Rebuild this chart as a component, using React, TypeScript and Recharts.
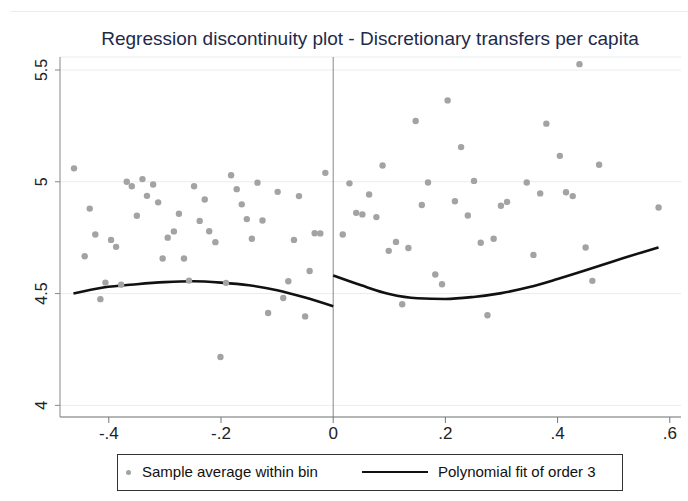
import React from "react";
import {
  ComposedChart,
  Scatter,
  Line,
  XAxis,
  YAxis,
  CartesianGrid,
  ReferenceLine,
} from "recharts";

// bin averages, left of cutoff
const leftBinX = [
  -0.462, -0.443, -0.434, -0.424, -0.415, -0.406, -0.396, -0.387, -0.378, -0.368,
  -0.359, -0.35, -0.34, -0.332, -0.321, -0.312, -0.304, -0.295, -0.284, -0.275,
  -0.266, -0.257, -0.248, -0.238, -0.229, -0.221, -0.21, -0.201, -0.191, -0.182,
  -0.172, -0.163, -0.154, -0.145, -0.135, -0.126, -0.116, -0.099, -0.089, -0.08,
  -0.07, -0.061, -0.05, -0.042, -0.033, -0.023, -0.014,
];
const leftBinY = [
  5.06, 4.667, 4.88, 4.764, 4.475, 4.549, 4.74, 4.709, 4.54, 5.0,
  4.98, 4.848, 5.012, 4.937, 4.988, 4.908, 4.657, 4.75, 4.778, 4.857,
  4.657, 4.558, 4.98, 4.825, 4.921, 4.779, 4.73, 4.216, 4.548, 5.029,
  4.967, 4.899, 4.833, 4.745, 4.996, 4.827, 4.413, 4.955, 4.48, 4.555,
  4.74, 4.936, 4.398, 4.601, 4.77, 4.769, 5.04,
];

// bin averages, right of cutoff
const rightBinX = [
  0.017, 0.029, 0.041, 0.052, 0.064, 0.077, 0.088, 0.099, 0.112, 0.123,
  0.134, 0.147, 0.158, 0.169, 0.182, 0.194, 0.204, 0.217, 0.228, 0.24,
  0.251, 0.263, 0.275, 0.286, 0.299, 0.31, 0.345, 0.357, 0.369, 0.38,
  0.404, 0.415, 0.427, 0.439, 0.45, 0.462, 0.474, 0.58,
];
const rightBinY = [
  4.764, 4.993, 4.861, 4.854, 4.943, 4.842, 5.073, 4.691, 4.731, 4.452,
  4.704, 5.272, 4.896, 4.997, 4.585, 4.542, 5.364, 4.913, 5.155, 4.849,
  5.004, 4.727, 4.403, 4.745, 4.893, 4.91, 4.997, 4.673, 4.948, 5.26,
  5.116, 4.953, 4.936, 5.526, 4.706, 4.557, 5.076, 4.885,
];

// cubic fit
const fitLeftX = [-0.463, -0.41, -0.35, -0.3, -0.25, -0.2, -0.15, -0.1, -0.05, 0];
const fitLeftY = [4.5, 4.527, 4.542, 4.551, 4.555, 4.549, 4.537, 4.515, 4.482, 4.443];
const fitRightX = [0, 0.05, 0.1, 0.15, 0.2, 0.25, 0.3, 0.35, 0.4, 0.45, 0.5, 0.55, 0.58];
const fitRightY = [4.581, 4.537, 4.498, 4.479, 4.476, 4.485, 4.502, 4.529, 4.565, 4.604, 4.645, 4.684, 4.706];

const xTicks = [-0.4, -0.2, 0, 0.2, 0.4, 0.6];
const xTickLabels = ["-.4", "-.2", "0", ".2", ".4", ".6"];
const yTicks = [4, 4.5, 5, 5.5];
const yTickLabels = ["4", "4.5", "5", "5.5"];

const zip = (xs: number[], ys: number[]) => xs.map((x, i) => ({ x, y: ys[i] }));
const bins = [...zip(leftBinX, leftBinY), ...zip(rightBinX, rightBinY)];
const fitLeft = zip(fitLeftX, fitLeftY);
const fitRight = zip(fitRightX, fitRightY);

const font = "'Liberation Sans', Arial, sans-serif";

const YTick = (props: any) => {
  const { y, payload } = props;
  const i = yTicks.indexOf(payload.value);
  return (
    <text
      x={47}
      y={y}
      transform={`rotate(-90 47 ${y})`}
      textAnchor="middle"
      fontSize={16}
      fontFamily={font}
      fill="#222"
    >
      {yTickLabels[i]}
    </text>
  );
};

export default function App() {
  return (
    <div
      style={{
        position: "absolute",
        left: 0,
        top: 0,
        width: 688,
        height: 501,
        background: "#fff",
        fontFamily: font,
      }}
    >
      <div
        style={{
          position: "absolute",
          left: 10,
          top: 11,
          right: 0,
          height: 0,
          borderTop: "1px solid #e6eeee",
        }}
      />
      <div
        style={{
          position: "absolute",
          left: 0,
          width: 740,
          top: 28,
          textAlign: "center",
          fontSize: 19,
          color: "#1e2a4a",
        }}
      >
        Regression discontinuity plot - Discretionary transfers per capita
      </div>
      <ComposedChart
        width={688}
        height={501}
        margin={{ top: 57, right: 7, left: 15, bottom: 54 }}
      >
        <CartesianGrid vertical={false} stroke="#e6eeee" />
        <XAxis
          type="number"
          dataKey="x"
          domain={[-0.487, 0.62]}
          ticks={xTicks}
          tickFormatter={(v: number) => xTickLabels[xTicks.indexOf(v)]}
          allowDataOverflow
          height={30}
          tickSize={6}
          tickMargin={4}
          stroke="#777"
          tick={{ fill: "#222", fontSize: 17, fontFamily: font }}
        />
        <YAxis
          type="number"
          dataKey="y"
          domain={[3.948, 5.558]}
          ticks={yTicks}
          allowDataOverflow
          width={45}
          tickSize={5}
          stroke="#888"
          tick={<YTick />}
        />
        <ReferenceLine x={0} stroke="#888" strokeWidth={1} />
        <Scatter
          data={bins}
          fill="#a3a3a3"
          shape={(p: any) => <circle cx={p.cx} cy={p.cy} r={3.2} fill="#a3a3a3" />}
          isAnimationActive={false}
        />
        <Line
          data={fitLeft}
          dataKey="y"
          type="monotone"
          stroke="#111"
          strokeWidth={2.6}
          dot={false}
          activeDot={false}
          isAnimationActive={false}
        />
        <Line
          data={fitRight}
          dataKey="y"
          type="monotone"
          stroke="#111"
          strokeWidth={2.6}
          dot={false}
          activeDot={false}
          isAnimationActive={false}
        />
      </ComposedChart>
      <div
        style={{
          position: "absolute",
          left: 117,
          top: 454,
          width: 504,
          height: 35,
          border: "1px solid #333",
          fontSize: 15,
          color: "#111",
        }}
      >
        <span
          style={{
            position: "absolute",
            left: 8,
            top: 15,
            width: 5,
            height: 5,
            borderRadius: 3,
            background: "#a3a3a3",
          }}
        />
        <span style={{ position: "absolute", left: 24, top: 8 }}>
          Sample average within bin
        </span>
        <span
          style={{
            position: "absolute",
            left: 244,
            top: 16,
            width: 66,
            height: 0,
            borderTop: "2px solid #111",
          }}
        />
        <span style={{ position: "absolute", left: 320, top: 8 }}>
          Polynomial fit of order 3
        </span>
      </div>
    </div>
  );
}
